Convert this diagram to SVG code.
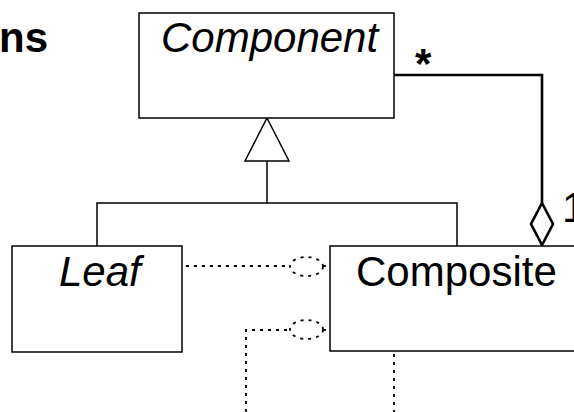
<svg xmlns="http://www.w3.org/2000/svg" width="574" height="412" viewBox="0 0 574 412">
<style>
.box{fill:#fff;stroke:#000;stroke-width:1.5}
.ln{fill:none;stroke:#000;stroke-width:1.5}
.agg{fill:none;stroke:#000;stroke-width:2.6}
.dot{fill:none;stroke:#000;stroke-width:1.8;stroke-dasharray:3 5}
.t{font-family:"Liberation Sans",Arial,sans-serif;font-size:42px;fill:#000}
.it{font-style:italic}
.b{font-weight:bold}
</style>
<rect width="574" height="412" fill="#fff"/>
<text class="t b" x="48" y="52" text-anchor="end">ns</text>
<g id="connectors">
<polygon class="box" points="267,118 289,161 245,161"/>
<polyline class="ln" points="267,161 267,203"/>
<polyline class="ln" points="97,246 97,203 457,203 457,246"/>
<polyline class="agg" points="394,75 542,75 542,203"/>
<polygon class="agg" points="542,203 553,224 542,245 531,224" fill="#fff"/>
<line class="dot" x1="186" y1="266" x2="290" y2="266"/>
<ellipse class="dot" cx="306.5" cy="266.5" rx="16.5" ry="9.5"/>
<line class="dot" x1="323" y1="266" x2="330" y2="266"/>
<polyline class="dot" points="246,412 246,330 290,330"/>
<ellipse class="dot" cx="306.5" cy="329.5" rx="16.5" ry="9.5"/>
<line class="dot" x1="323" y1="330" x2="330" y2="330"/>
<line class="dot" x1="394" y1="354" x2="394" y2="412"/>
<text class="t b" x="415" y="78" font-size="58">*</text>
<text class="t" x="562" y="222">1</text>
</g>
<g id="component">
<rect class="box" x="139" y="13" width="255" height="105"/>
<text class="t it" x="161" y="52">Component</text>
</g>
<g id="leaf">
<rect class="box" x="12" y="246" width="170" height="106"/>
<text class="t it" x="59" y="286">Leaf</text>
</g>
<g id="composite">
<rect class="box" x="330" y="246" width="280" height="105"/>
<text class="t" x="356" y="286">Composite</text>
</g>
</svg>
